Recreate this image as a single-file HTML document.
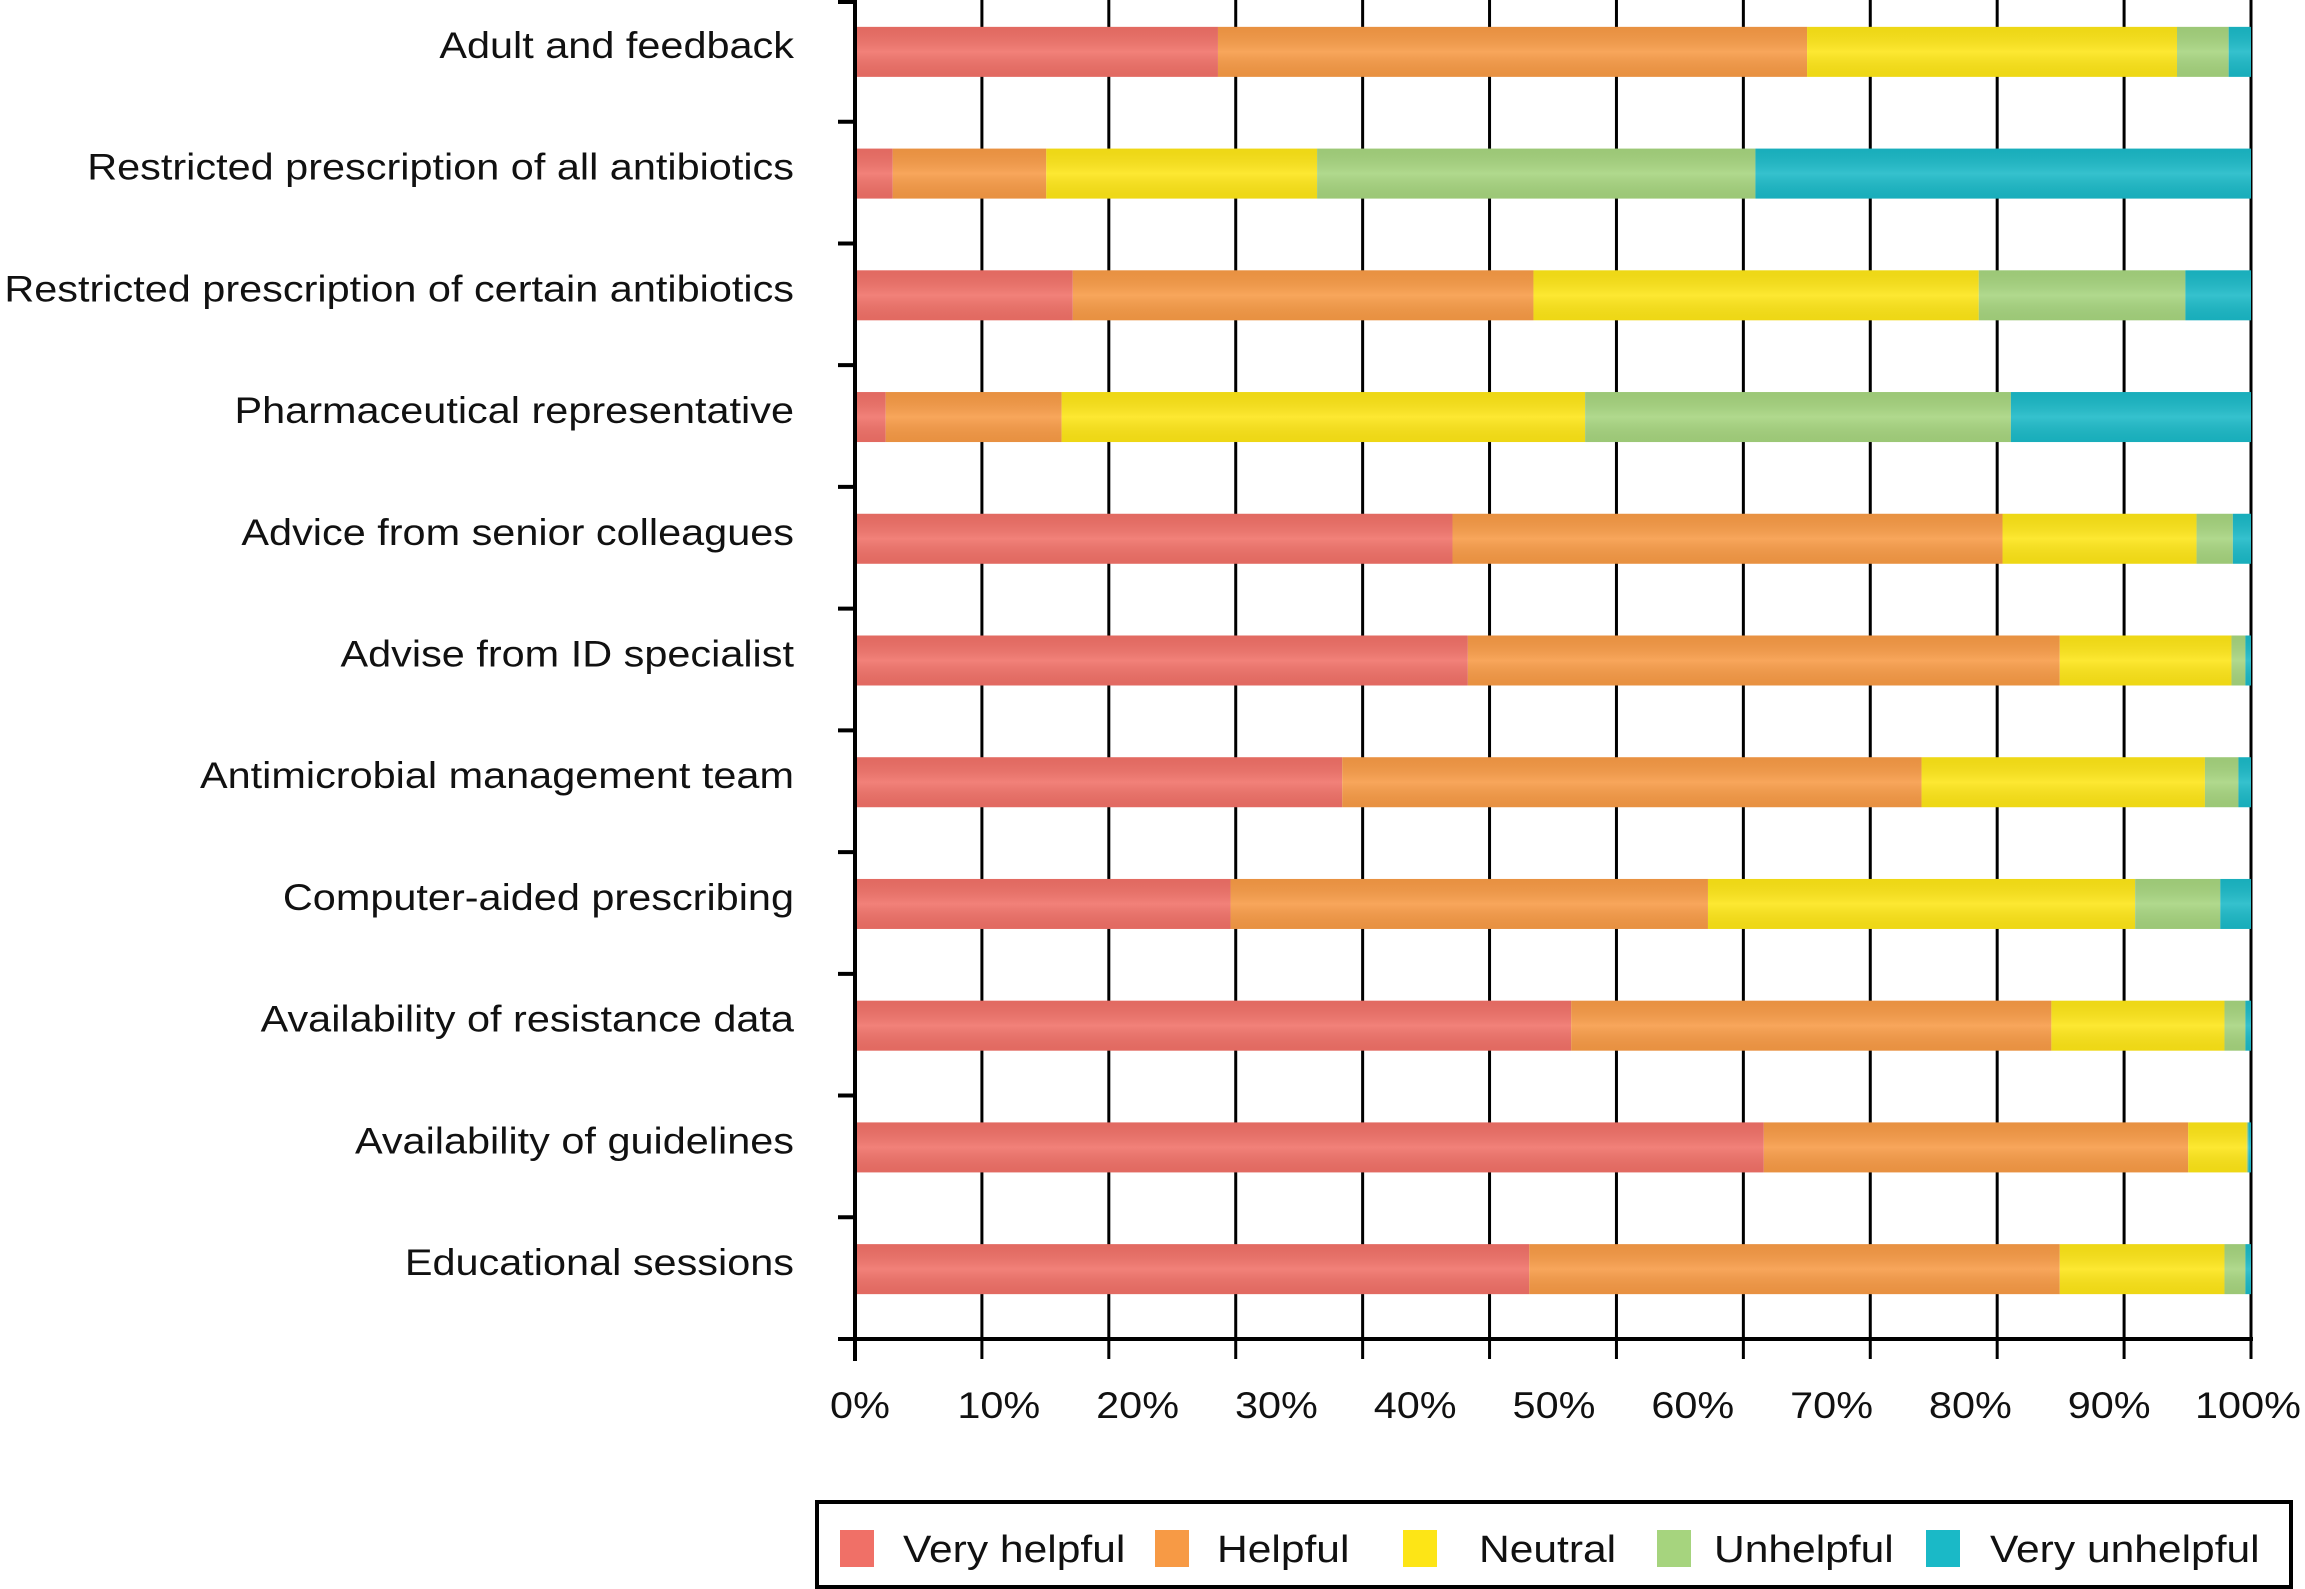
<!DOCTYPE html>
<html><head><meta charset="utf-8"><style>
html,body{margin:0;padding:0;background:#fff;}
svg{display:block;font-family:"Liberation Sans",Arial,sans-serif;}
</style></head><body>
<svg id="chart" width="2305" height="1589" viewBox="0 0 2305 1589" xmlns="http://www.w3.org/2000/svg">
<defs>
<linearGradient id="shade" x1="0" y1="0" x2="0" y2="1">
<stop offset="0" stop-color="#000" stop-opacity="0.06"/>
<stop offset="0.5" stop-color="#fff" stop-opacity="0.12"/>
<stop offset="1" stop-color="#000" stop-opacity="0.06"/>
</linearGradient>
</defs>
<g id="grid"></g><g id="bars"></g><g id="axes"></g><g id="labels"></g><g id="legend"></g>
</svg>
<script>
const categories = ["Adult and feedback","Restricted prescription of all antibiotics","Restricted prescription of certain antibiotics","Pharmaceutical representative","Advice from senior colleagues","Advise from ID specialist","Antimicrobial management team","Computer-aided prescribing","Availability of resistance data","Availability of guidelines","Educational sessions"];
const seriesNames = ["Very helpful","Helpful","Neutral","Unhelpful","Very unhelpful"];
const veryHelpful = [26.0,2.7,15.6,2.2,42.8,43.9,34.9,26.9,51.3,65.1,48.3];
const helpful = [42.2,11.0,33.0,12.6,39.4,42.4,41.5,34.2,34.4,30.4,38.0];
const neutral = [26.5,19.4,31.9,37.5,13.9,12.3,20.3,30.6,12.4,4.2,11.8];
const unhelpful = [3.7,31.4,14.8,30.5,2.6,1.0,2.4,6.1,1.5,0.1,1.5];
const veryUnhelpful = [1.6,35.5,4.7,17.2,1.3,0.4,0.9,2.2,0.4,0.2,0.4];
const xTickLabels = ["0%","10%","20%","30%","40%","50%","60%","70%","80%","90%","100%"];
const gridCount = 11;

const colors = ["#f07067","#f79a45","#fde516","#a6d47e","#1ab9c7"];
const series = [veryHelpful,helpful,neutral,unhelpful,veryUnhelpful];
const NS = "http://www.w3.org/2000/svg";
const X0 = 855, X1 = 2251, YTOP = 0, YBOT = 1339;
const SX = 1.12;
const band = (YBOT - YTOP) / categories.length;
const barH = 50;
function xs(v){ return X0 + (v/100)*(X1-X0); }
function yc(i){ return YTOP + band*i + band/2 - 9; }
function mk(tag, attrs, parent){ const e=document.createElementNS(NS,tag); for(const k in attrs) e.setAttribute(k,attrs[k]); parent.appendChild(e); return e; }

const grid=document.getElementById('grid'), bars=document.getElementById('bars'), axes=document.getElementById('axes'), labels=document.getElementById('labels'), legend=document.getElementById('legend');

for(let g=1; g<=gridCount; g++){
  const x = X0 + (X1-X0)*g/gridCount;
  const l = mk('line',{x1:x,x2:x,y1:0,y2:YBOT+20,stroke:'#000','stroke-width':3},grid);
  
  
}

categories.forEach((c,i)=>{
  let acc=0;
  series.forEach((s,si)=>{
    const v=s[i];
    const r=mk('rect',{x:xs(acc),y:yc(i)-barH/2,width:xs(acc+v)-xs(acc),height:barH,fill:colors[si]},bars);
    
    
    acc+=v;
  });
  const sh=mk('rect',{x:X0,y:yc(i)-barH/2,width:xs(acc)-X0,height:barH,fill:'url(#shade)'},bars);
  
  
  const t=mk('text',{x:794/SX,y:yc(i)+6,'text-anchor':'end','font-size':37,fill:'#111',transform:'scale('+SX+',1)'},labels);
  t.textContent=c;
  
  
});

const ya=mk('line',{x1:X0,x2:X0,y1:0,y2:YBOT+22,stroke:'#000','stroke-width':4},axes);


const xa=mk('line',{x1:838,x2:X1+2,y1:YBOT,y2:YBOT,stroke:'#000','stroke-width':4},axes);


for(let i=0;i<=categories.length;i++){
  const y=YTOP+band*i;
  const tk=mk('line',{x1:838,x2:X0,y1:Math.max(y,2),y2:Math.max(y,2),stroke:'#000','stroke-width':4},axes);
  
  
}
xTickLabels.forEach((s,i)=>{
  const x = X0 + 5 + (X1-X0-8)*i/(xTickLabels.length-1);
  const t=mk('text',{x:x/SX,y:1418,'text-anchor':'middle','font-size':37,fill:'#111',transform:'scale('+SX+',1)'},labels);
  t.textContent=s;
  
  
});

const box=mk('rect',{x:817,y:1502,width:1474,height:85,fill:'none',stroke:'#000','stroke-width':4},legend);


const swX=[840,1155,1403,1657,1926], txX=[903,1217,1479,1714,1990];
seriesNames.forEach((n,i)=>{
  const s=mk('rect',{x:swX[i],y:1530,width:34,height:37,fill:colors[i]},legend);
  
  
  const t=mk('text',{x:txX[i]/SX,y:1562,'font-size':38,fill:'#111',transform:'scale('+SX+',1)'},legend);
  t.textContent=n;
  
  
});
</script>
</body></html>
